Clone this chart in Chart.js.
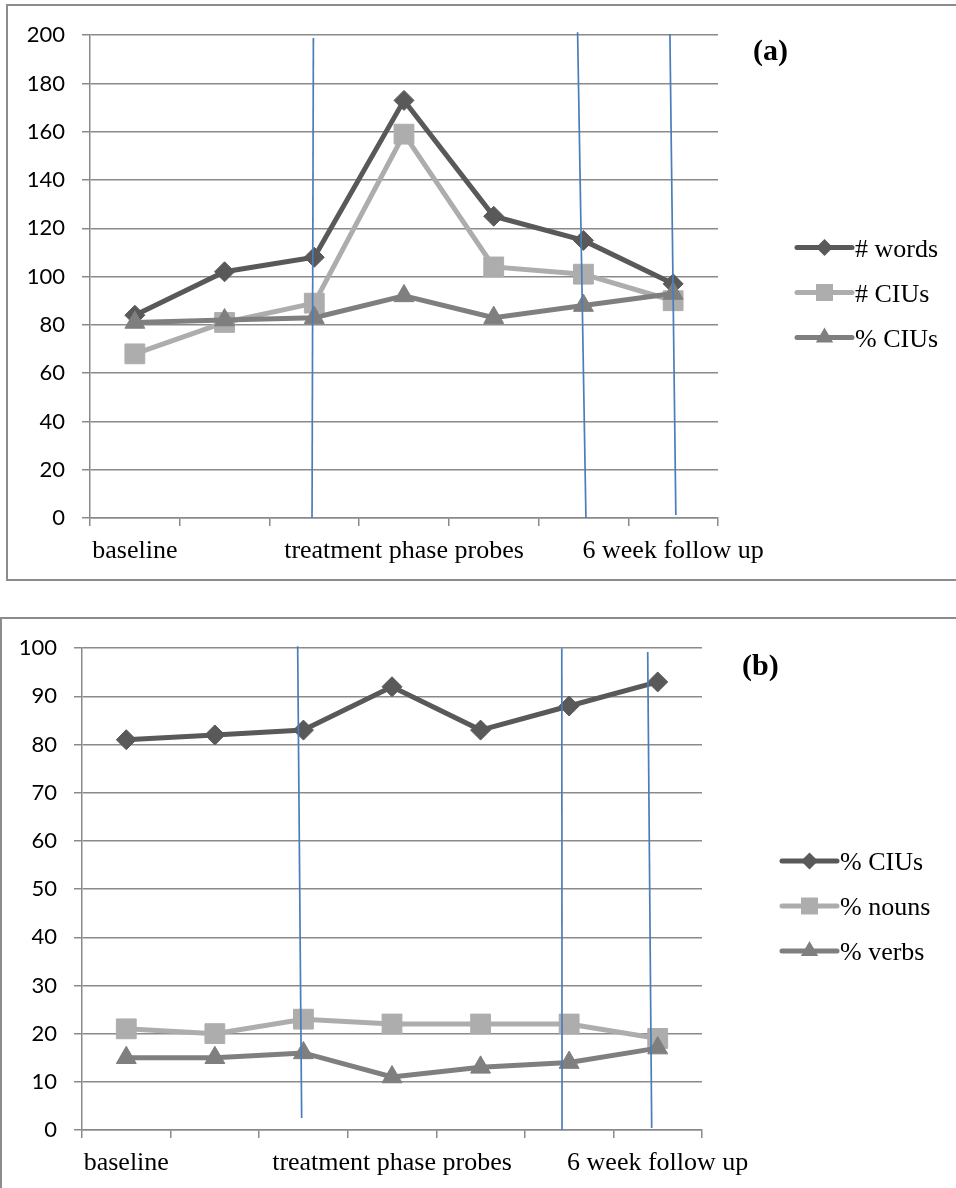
<!DOCTYPE html>
<html>
<head>
<meta charset="utf-8">
<title>Discourse measures across baseline, treatment and follow-up</title>
<script src="https://cdn.jsdelivr.net/npm/chart.js@4.4.1/dist/chart.umd.min.js"></script>
<style>
  html, body { margin: 0; padding: 0; background: #fff; width: 956px; height: 1188px; overflow: hidden; }
  .frame { position: absolute; border: 2px solid #8c8c8c; box-sizing: border-box; }
  canvas { position: absolute; }
</style>
</head>
<body>
<div class="frame" style="left:6px; top:4px; width:980px; height:577px;"></div>
<canvas id="chartA" width="949" height="575" style="left:7px; top:5px;"></canvas>
<div class="frame" style="left:0px; top:617px; width:990px; height:600px;"></div>
<canvas id="chartB" width="955" height="576" style="left:1px; top:618px;"></canvas>

<script>
// Probe sessions (only the phase names are printed on the axis)
const stages = ['baseline', '', '', 'treatment phase probes', '', '', '6 week follow up'];

// Panel (a): word and CIU counts per probe
const wordCount   = [84, 102, 108, 173, 125, 115, 97];
const ciuCount    = [68, 81, 89, 159, 104, 101, 90];
const ciuPercentA = [81, 82, 83, 92, 83, 88, 93];
const yTicksA     = [0, 20, 40, 60, 80, 100, 120, 140, 160, 180, 200];

// Panel (b): proportions per probe
const ciuPercentB = [81, 82, 83, 92, 83, 88, 93];
const nounPercent = [21, 20, 23, 22, 22, 22, 19];
const verbPercent = [15, 15, 16, 11, 13, 14, 17];
const yTicksB     = [0, 10, 20, 30, 40, 50, 60, 70, 80, 90, 100];

// Phase boundaries: [category position at top, value at top, category position at bottom, value at bottom]
const phaseLinesA = [[1.99, 198.8, 1.975, 0], [4.935, 201.2, 5.028, 0], [5.964, 200.4, 6.03, 1.2]];
const phaseLinesB = [[1.935, 100.4, 1.98, 2.5], [4.917, 100, 4.92, 0], [5.887, 99.2, 5.932, 0.4]];

const DARK = '#595959', LIGHT = '#adadad', MID = '#7f7f7f';
const GRID = '#8a8a8a', PHASE = '#4a7ebb';

function drawMarker(ctx, style, x, y, r) {
  ctx.beginPath();
  if (style === 'rectRot') {
    ctx.moveTo(x - r, y); ctx.lineTo(x, y - r); ctx.lineTo(x + r, y); ctx.lineTo(x, y + r);
  } else if (style === 'rect') {
    const s = Math.SQRT1_2 * r;
    ctx.rect(x - s, y - s, 2 * s, 2 * s);
  } else {
    let a = 0;
    ctx.moveTo(x + Math.sin(a) * r, y - Math.cos(a) * r);
    a += 2 * Math.PI / 3; ctx.lineTo(x + Math.sin(a) * r, y - Math.cos(a) * r);
    a += 2 * Math.PI / 3; ctx.lineTo(x + Math.sin(a) * r, y - Math.cos(a) * r);
  }
  ctx.closePath();
  ctx.fill();
}

// Legend markers are a little smaller than the plotted ones
const legendRadius = { rectRot: 8.5, rect: 12, triangle: 10 };

function decorations(cfg) {
  return {
    id: 'panelDecor',
    afterDatasetsDraw(chart) {
      const { ctx, scales: { x, y } } = chart;
      ctx.save();
      ctx.strokeStyle = PHASE;
      ctx.lineWidth = 1.7;
      cfg.phaseLines.forEach(([xt, yt, xb, yb]) => {
        ctx.beginPath();
        ctx.moveTo(x.getPixelForValue(xt), y.getPixelForValue(yt));
        ctx.lineTo(x.getPixelForValue(xb), y.getPixelForValue(yb));
        ctx.stroke();
      });
      ctx.restore();
    },
    afterDraw(chart) {
      const { ctx, chartArea } = chart;
      ctx.save();
      // panel letter
      ctx.fillStyle = '#000';
      ctx.font = 'bold 30px "Liberation Serif"';
      ctx.textBaseline = 'alphabetic';
      ctx.textAlign = 'left';
      ctx.fillText(cfg.panel, chartArea.right + cfg.panelDx, cfg.panelY);
      // legend: line sample with marker, then label
      const sets = chart.data.datasets;
      const mid = chart.height / 2;
      const x0 = chartArea.right + cfg.legendDx;
      sets.forEach((ds, i) => {
        const yy = mid + (i - (sets.length - 1) / 2) * 45;
        ctx.strokeStyle = ds.borderColor;
        ctx.lineWidth = 5;
        ctx.lineCap = 'round';
        ctx.beginPath();
        ctx.moveTo(x0, yy); ctx.lineTo(x0 + 55, yy);
        ctx.stroke();
        ctx.fillStyle = ds.backgroundColor;
        drawMarker(ctx, ds.pointStyle, x0 + 27.5, yy, legendRadius[ds.pointStyle]);
        ctx.fillStyle = '#000';
        ctx.font = '26px "Liberation Serif"';
        ctx.fillText(ds.label, x0 + 58, yy + 9);
      });
      ctx.restore();
    }
  };
}

function series(label, data, color, style, radius, order) {
  return {
    label, data, order,
    borderColor: color, backgroundColor: color,
    borderWidth: 5, tension: 0,
    pointStyle: style, pointRadius: radius,
    pointBorderWidth: 1, pointBorderColor: color, pointBackgroundColor: color
  };
}

function makeChart(id, datasets, yTicks, cfg) {
  new Chart(document.getElementById(id), {
    type: 'line',
    data: { labels: stages, datasets },
    options: {
      responsive: false,
      animation: false,
      events: [],
      layout: { padding: { top: 29, right: cfg.padRight, left: 0, bottom: 0 } },
      plugins: { legend: { display: false }, tooltip: { enabled: false } },
      scales: {
        x: {
          type: 'category',
          offset: true,
          grid: { offset: true, drawOnChartArea: false, drawTicks: true, tickLength: 8, color: GRID, lineWidth: 1.5 },
          border: { color: GRID, width: 1.5 },
          ticks: { autoSkip: false, maxRotation: 0, minRotation: 0, padding: 10, color: '#000',
                   font: { family: 'Liberation Serif', size: 26 } },
          afterFit(s) { s.height = cfg.xHeight; }
        },
        y: {
          min: yTicks[0],
          max: yTicks[yTicks.length - 1],
          afterBuildTicks(s) { s.ticks = yTicks.map(v => ({ value: v })); },
          grid: { color: GRID, lineWidth: 1.5, tickLength: 8 },
          border: { color: GRID, width: 1.5 },
          ticks: { padding: 17, color: '#000', font: { family: 'Lato', size: 22 } },
          afterFit(s) { s.width = cfg.yWidth; }
        }
      }
    },
    plugins: [decorations(cfg)]
  });
}

makeChart('chartA', [
  series('# words', wordCount, DARK, 'rectRot', 10, 2),
  series('# CIUs', ciuCount, LIGHT, 'rect', 14, 1),
  series('% CIUs', ciuPercentA, MID, 'triangle', 11.5, 0)
], yTicksA, { padRight: 238, xHeight: 62, yWidth: 83, phaseLines: phaseLinesA,
              panel: '(a)', panelDx: 35, panelY: 55, legendDx: 79 });

makeChart('chartB', [
  series('% CIUs', ciuPercentB, DARK, 'rectRot', 10, 2),
  series('% nouns', nounPercent, LIGHT, 'rect', 14, 1),
  series('% verbs', verbPercent, MID, 'triangle', 11.5, 0)
], yTicksB, { padRight: 254, xHeight: 64, yWidth: 81, phaseLines: phaseLinesB,
              panel: '(b)', panelDx: 40, panelY: 57, legendDx: 80 });
</script>
</body>
</html>
